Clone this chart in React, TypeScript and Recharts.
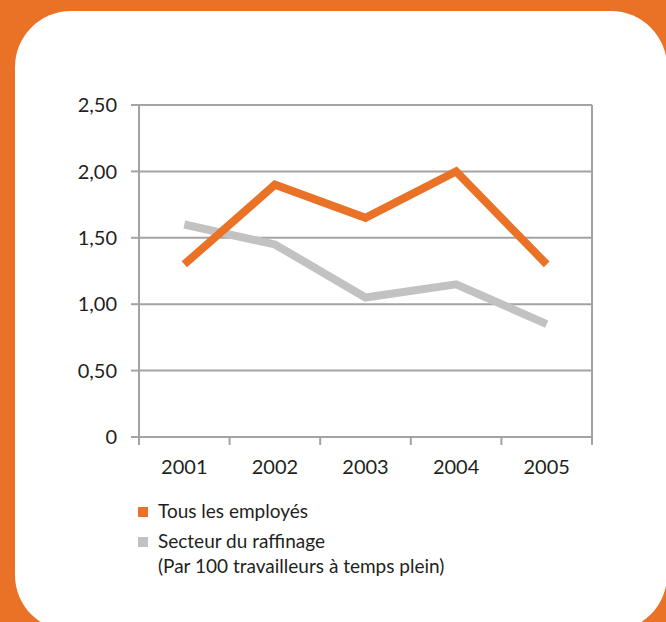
import React from "react";
import { LineChart, Line, XAxis, YAxis, CartesianGrid } from "recharts";

const years = ["2001", "2002", "2003", "2004", "2005"];
const tousLesEmployes = [1.3, 1.9, 1.65, 2.0, 1.3];
const secteurRaffinage = [1.6, 1.45, 1.05, 1.15, 0.85];
const yTicks = [0, 0.5, 1, 1.5, 2, 2.5];

const ORANGE = "#E97226";
const GRAY_LINE = "#C2C2C2";
const GRID = "#A3A3A6";
const TEXT = "#231F20";
const FONT = "Lato, 'Open Sans', sans-serif";

const data = years.map((year, i) => ({
  year,
  tous: tousLesEmployes[i],
  raffinage: secteurRaffinage[i],
}));

const PLOT_LEFT = 139;
const PLOT_RIGHT = 592;
const PLOT_TOP = 105;
const PLOT_BOTTOM = 437;
const X_AXIS_H = 63;
const BAND = (PLOT_RIGHT - PLOT_LEFT) / years.length;

const fmt = (v: number) => (v === 0 ? "0" : v.toFixed(2).replace(".", ","));

// category tick: label in the middle, tick marks on the band edges
const XTick = ({ x, y, payload, index }: any) => (
  <g>
    <line x1={x - BAND / 2} y1={y - 8} x2={x - BAND / 2} y2={y} stroke={GRID} strokeWidth={2} />
    {index === years.length - 1 && (
      <line x1={x + BAND / 2} y1={y - 8} x2={x + BAND / 2} y2={y} stroke={GRID} strokeWidth={2} />
    )}
    <text x={x} y={y + 29} textAnchor="middle" fontSize={20} fill={TEXT} fontFamily={FONT}>
      {payload.value}
    </text>
  </g>
);

const legendText: React.CSSProperties = {
  position: "absolute",
  left: 158,
  fontFamily: FONT,
  fontSize: 19,
  lineHeight: "19px",
  color: TEXT,
  whiteSpace: "nowrap",
};

const square = (color: string, top: number): React.CSSProperties => ({
  position: "absolute",
  left: 138,
  top,
  width: 10,
  height: 10,
  background: color,
});

export default function App() {
  return (
    <div
      style={{
        position: "absolute",
        left: 0,
        top: 0,
        width: 666,
        height: 622,
        background: ORANGE,
        overflow: "hidden",
      }}
    >
      <div
        style={{
          position: "absolute",
          left: 15,
          top: 11,
          width: 652,
          height: 620,
          background: "#fff",
          borderRadius: 56,
        }}
      />
      <div style={{ position: "absolute", left: 0, top: 0 }}>
        <LineChart
          width={666}
          height={PLOT_BOTTOM + X_AXIS_H}
          data={data}
          margin={{ top: PLOT_TOP, right: 666 - PLOT_RIGHT - 60, left: 0, bottom: 0 }}
        >
          <CartesianGrid yAxisId="left" horizontal vertical={false} stroke={GRID} strokeWidth={2} />
          <XAxis
            dataKey="year"
            scale="band"
            axisLine={{ stroke: GRID, strokeWidth: 2 }}
            tickLine={false}
            tick={<XTick />}
            interval={0}
            height={X_AXIS_H}
          />
          <YAxis
            yAxisId="left"
            width={PLOT_LEFT}
            domain={[0, 2.5]}
            ticks={yTicks}
            tickFormatter={fmt}
            axisLine={{ stroke: GRID, strokeWidth: 2 }}
            tickLine={{ stroke: GRID, strokeWidth: 2 }}
            tickSize={8}
            tickMargin={14}
            tick={{ fontSize: 20, fill: TEXT, fontFamily: FONT }}
          />
          <YAxis
            yAxisId="right"
            orientation="right"
            width={60}
            domain={[0, 2.5]}
            ticks={yTicks}
            axisLine={{ stroke: GRID, strokeWidth: 2 }}
            tickLine={{ stroke: GRID, strokeWidth: 2 }}
            tickSize={7}
            tick={false}
          />
          <Line
            yAxisId="left"
            dataKey="raffinage"
            stroke={GRAY_LINE}
            strokeWidth={8}
            dot={false}
            strokeLinejoin="miter"
            isAnimationActive={false}
          />
          <Line
            yAxisId="left"
            dataKey="tous"
            stroke={ORANGE}
            strokeWidth={8}
            dot={false}
            strokeLinejoin="miter"
            isAnimationActive={false}
          />
        </LineChart>
      </div>
      <div style={square(ORANGE, 507)} />
      <div style={{ ...legendText, top: 501 }}>Tous les employés</div>
      <div style={square(GRAY_LINE, 537)} />
      <div style={{ ...legendText, top: 531 }}>Secteur du raffinage</div>
      <div style={{ ...legendText, top: 556 }}>(Par 100 travailleurs à temps plein)</div>
    </div>
  );
}
